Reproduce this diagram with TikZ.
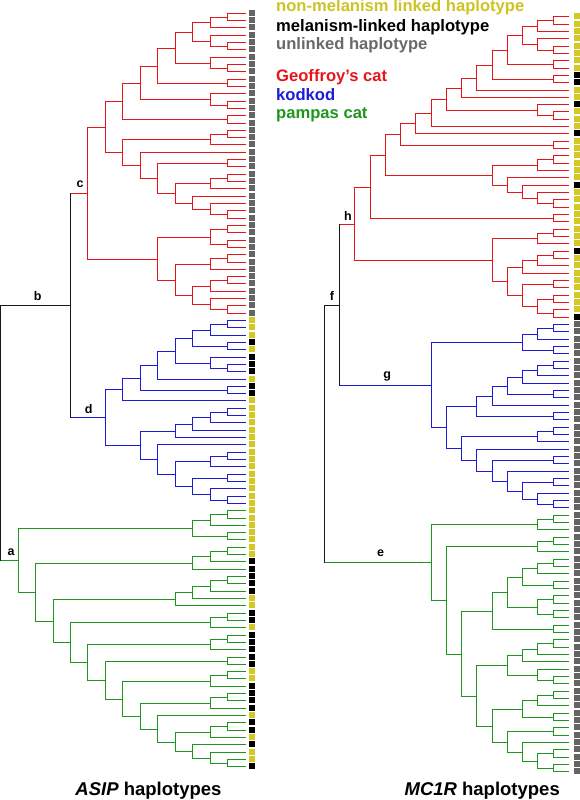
\documentclass[tikz,border=0pt]{standalone}
\usepackage{fontspec}
\setmainfont{Liberation Sans}
\usepackage{graphicx}
\definecolor{tred}{RGB}{228,22,26}
\definecolor{tblue}{RGB}{28,28,215}
\definecolor{tgreen}{RGB}{30,150,30}
\definecolor{tblack}{RGB}{25,25,25}
\definecolor{myyel}{RGB}{212,200,36}
\definecolor{mkblk}{RGB}{0,0,0}
\definecolor{mgray}{RGB}{100,100,100}
\definecolor{legyel}{RGB}{205,195,35}
\definecolor{leggray}{RGB}{105,105,105}
\newcount\leafcnt
\def\curcol{tblack}
% leaf with a marker square
\def\LfLeaf#1{%
  \pgfmathsetmacro\dTy{floor(\Ystart+\Ystep*\the\leafcnt)+0.5}%
  \fill[#1] (\SqL,\dTy-3.5) rectangle (\SqR,\dTy+2.5);%
  \global\advance\leafcnt by 1\relax
  \xdef\dRh{0}\xdef\dRy{\dTy}\xdef\dRc{\curcol}}
\def\LY{\LfLeaf{myyel}}
\def\LK{\LfLeaf{mkblk}}
\def\LG{\LfLeaf{mgray}}
% join of two subtrees
\def\J#1#2{\begingroup
  #1\let\dHa\dRh\let\dYa\dRy\let\dCa\dRc
  #2\let\dHb\dRh\let\dYb\dRy\let\dCb\dRc
  \pgfmathtruncatemacro\dHh{max(\dHa,\dHb)+1}%
  \pgfmathsetmacro\dXx{floor(\Xleaf-\Hstep*\dHh)+0.5}%
  \pgfmathsetmacro\dXa{floor(\Xleaf-\Hstep*\dHa)+0.5}%
  \pgfmathsetmacro\dXb{floor(\Xleaf-\Hstep*\dHb)+0.5}%
  \pgfmathsetmacro\dYy{floor((\dYa+\dYb)/2)+0.5}%
  \draw[br,\dCa] (\dXx,\dYa) -- (\dXa,\dYa);
  \draw[br,\dCb] (\dXx,\dYb) -- (\dXb,\dYb);
  \draw[br,\curcol] (\dXx,\dYa) -- (\dXx,\dYb);
  \xdef\dRh{\dHh}\xdef\dRy{\dYy}\xdef\dRc{\curcol}\xdef\dRx{\dXx}%
\endgroup}
\def\Cl#1#2{\begingroup\def\curcol{#1}#2\endgroup}
\def\Nm#1#2{#2\coordinate (#1) at (\dRx,\dRy);}
% ---------- left tree (ASIP) ----------
\def\tAa{\J{\J{\LG}{\LG}}{\LG}}
\def\tAb{\J{\LG}{\J{\LG}{\LG}}}
\def\tAc{\J{\tAa}{\tAb}}
\def\tAd{\J{\LG}{\J{\LG}{\LG}}}
\def\tAe{\J{\tAc}{\tAd}}
\def\tAf{\J{\tAe}{\J{\LG}{\LG}}}
\def\tAg{\J{\LG}{\J{\LG}{\LG}}}
\def\tAh{\J{\tAf}{\tAg}}
\def\tAi{\J{\tAh}{\J{\LG}{\LG}}}
\def\tBa{\J{\J{\J{\LG}{\LG}}{\LG}}{\J{\LG}{\J{\J{\LG}{\LG}}{\J{\J{\J{\LG}{\LG}}{\LG}}{\J{\LG}{\J{\LG}{\J{\LG}{\LG}}}}}}}}
\def\tLa{\J{\J{\LG}{\LG}}{\J{\LG}{\LG}}}
\def\tLb{\J{\J{\LG}{\LG}}{\LG}}
\def\tLd{\J{\LG}{\J{\LG}{\LG}}}
\def\tLe{\J{\tLa}{\J{\tLb}{\J{\tLb}{\tLd}}}}
\def\tC{\J{\J{\tAi}{\tBa}}{\tLe}}
\def\tDa{\J{\J{\J{\LY}{\LY}}{\LY}}{\J{\LK}{\LY}}}
\def\tDb{\J{\LK}{\J{\LK}{\LK}}}
\def\tDc{\J{\J{\J{\J{\tDa}{\tDb}}{\LY}}{\J{\LK}{\LK}}}{\LY}}
\def\tEa{\J{\J{\J{\J{\LY}{\LY}}{\LY}}{\LY}}{\LY}}
\def\tEb{\J{\J{\J{\LY}{\LY}}{\LY}}{\J{\J{\LY}{\LY}}{\J{\LY}{\J{\LY}{\LY}}}}}
\def\tD{\J{\tDc}{\J{\tEa}{\J{\LY}{\tEb}}}}
\def\tGa{\J{\J{\J{\LY}{\LY}}{\LY}}{\J{\LY}{\LY}}}
\def\tGb{\J{\J{\J{\LY}{\LY}}{\LK}}{\LK}}
\def\tGc{\J{\J{\J{\J{\LK}{\LK}}{\LK}}{\LY}}{\LY}}
\def\tGi{\J{\LK}{\J{\LY}{\J{\LY}{\LK}}}}
\def\tGh{\J{\J{\J{\LK}{\LK}}{\LY}}{\tGi}}
\def\tGg{\J{\LY}{\tGh}}
\def\tGf{\J{\J{\J{\LK}{\LK}}{\LK}}{\tGg}}
\def\tGe{\J{\J{\J{\LY}{\LY}}{\LK}}{\tGf}}
\def\tGd{\J{\J{\LK}{\LK}}{\tGe}}
\def\tGx{\J{\J{\J{\LK}{\LK}}{\LK}}{\tGd}}
\def\tGy{\J{\J{\J{\LK}{\LK}}{\LY}}{\tGx}}
\def\tG{\J{\tGa}{\J{\tGb}{\J{\tGc}{\tGy}}}}
% ---------- right tree (MC1R) ----------
\def\tRa{\J{\J{\J{\LY}{\LY}}{\LY}}{\J{\LY}{\J{\LY}{\LY}}}}
\def\tRb{\J{\J{\tRa}{\J{\LY}{\LY}}}{\J{\LK}{\LK}}}
\def\tRc{\J{\J{\tRb}{\LY}}{\LY}}
\def\tRd{\J{\J{\J{\tRc}{\J{\LK}{\J{\LY}{\LY}}}}{\LY}}{\LK}}
\def\tRe{\J{\tRd}{\J{\LY}{\LY}}}
\def\tRf{\J{\J{\J{\LY}{\LY}}{\LY}}{\J{\LY}{\J{\LK}{\J{\LY}{\J{\LY}{\LY}}}}}}
\def\tRg{\J{\J{\tRe}{\tRf}}{\J{\LY}{\LY}}}
\def\tRh{\J{\J{\J{\LY}{\LY}}{\LY}}{\J{\J{\J{\J{\LK}{\LY}}{\LY}}{\LY}}{\J{\J{\LY}{\LY}}{\J{\J{\LY}{\LY}}{\J{\LY}{\LK}}}}}}
\def\tH{\J{\tRg}{\tRh}}
\def\tSa{\J{\J{\J{\LG}{\LG}}{\LG}}{\J{\LG}{\LG}}}
\def\tSb{\J{\J{\J{\J{\J{\J{\LG}{\LG}}{\LG}}{\LG}}{\J{\LG}{\LG}}}{\LG}}{\J{\LG}{\LG}}}
\def\tSc{\J{\J{\J{\LG}{\LG}}{\LG}}{\J{\LG}{\J{\J{\LG}{\LG}}{\J{\LG}{\J{\J{\LG}{\LG}}{\J{\LG}{\J{\LG}{\LG}}}}}}}}
\def\tS{\J{\tSa}{\J{\tSb}{\tSc}}}
\def\tUa{\J{\J{\LG}{\LG}}{\LG}}
\def\tUb{\J{\J{\J{\J{\J{\LG}{\LG}}{\LG}}{\J{\LG}{\LG}}}{\J{\J{\LG}{\LG}}{\J{\LG}{\LG}}}}{\J{\LG}{\LG}}}
\def\tUc{\J{\J{\J{\J{\LG}{\LG}}{\LG}}{\LG}}{\J{\LG}{\J{\LG}{\LG}}}}
\def\tUd{\J{\J{\J{\J{\LG}{\LG}}{\LG}}{\J{\LG}{\LG}}}{\J{\J{\LG}{\LG}}{\J{\LG}{\J{\J{\LG}{\LG}}{\J{\LG}{\LG}}}}}}
\def\tU{\J{\tUa}{\J{\tUa}{\J{\tUb}{\J{\tUc}{\tUd}}}}}
\tikzset{
  br/.style={line width=1.5pt, line cap=rect},
  lab/.style={font=\fontsize{12.5}{14}\selectfont\bfseries, text=black, inner sep=0pt},
  leg/.style={font=\fontsize{16.6}{18}\selectfont\bfseries, inner sep=0pt, anchor=base west},
  ttl/.style={font=\fontsize{18.5}{20}\selectfont\bfseries, inner sep=0pt, anchor=base}
}
\begin{document}
\begin{tikzpicture}[x=1pt,y=-1pt]
\useasboundingbox (0,0) rectangle (580,800);
% left tree
\def\Xleaf{245}\def\Hstep{17.45}\def\Ystart{13.3}\def\Ystep{7.315}\def\SqL{249}\def\SqR{255}
\global\leafcnt=0
\Cl{tblack}{\J{\Nm{b}{\J{\Nm{c}{\Cl{tred}{\tC}}}{\Nm{d}{\Cl{tblue}{\tD}}}}}{\Nm{a}{\Cl{tgreen}{\tG}}}}
% right tree
\def\Xleaf{568.3}\def\Hstep{15.25}\def\Ystart{16.7}\def\Ystep{7.33}\def\SqL{573.5}\def\SqR{579.8}
\global\leafcnt=0
\Cl{tblack}{\J{\Nm{f}{\J{\Nm{h}{\Cl{tred}{\tH}}}{\Nm{g}{\Cl{tblue}{\tS}}}}}{\Nm{e}{\Cl{tgreen}{\tU}}}}
% branch labels
\node[lab] (la) at ([shift={(-7.3,-8.3)}]a) {a};
\node[lab] (lb) at ([shift={(-32.7,-9.4)}]b) {b};
\node[lab] (lc) at ([shift={(-7.3,-9)}]c) {c};
\node[lab] (ld) at ([shift={(-16.7,-8.7)}]d) {d};
\node[lab] (le) at ([shift={(-51,-9.2)}]e) {e};
\node[lab] (lf) at ([shift={(-7.6,-9.5)}]f) {f};
\node[lab] (lg) at ([shift={(-44.3,-9.3)}]g) {g};
\node[lab] (lh) at ([shift={(-6.6,-9)}]h) {h};
% legend
\node[leg, text=legyel] (k1) at (276,11.7) {non-melanism linked haplotype};
\node[leg, text=black] (k2) at (276,31.2) {melanism-linked haplotype};
\node[leg, text=leggray] (k3) at (276,49.8) {unlinked haplotype};
\node[leg, text=tred] (k4) at (276,81.5) {Geoffroy’s cat};
\node[leg, text=tblue] (k5) at (276,100) {kodkod};
\node[leg, text=tgreen] (k6) at (276,118.3) {pampas cat};
% titles
\node[ttl] (t1) at (148.5,795) {\textit{ASIP} haplotypes};
\node[ttl] (t2) at (482.2,795) {\textit{MC1R} haplotypes};
\end{tikzpicture}
\end{document}
